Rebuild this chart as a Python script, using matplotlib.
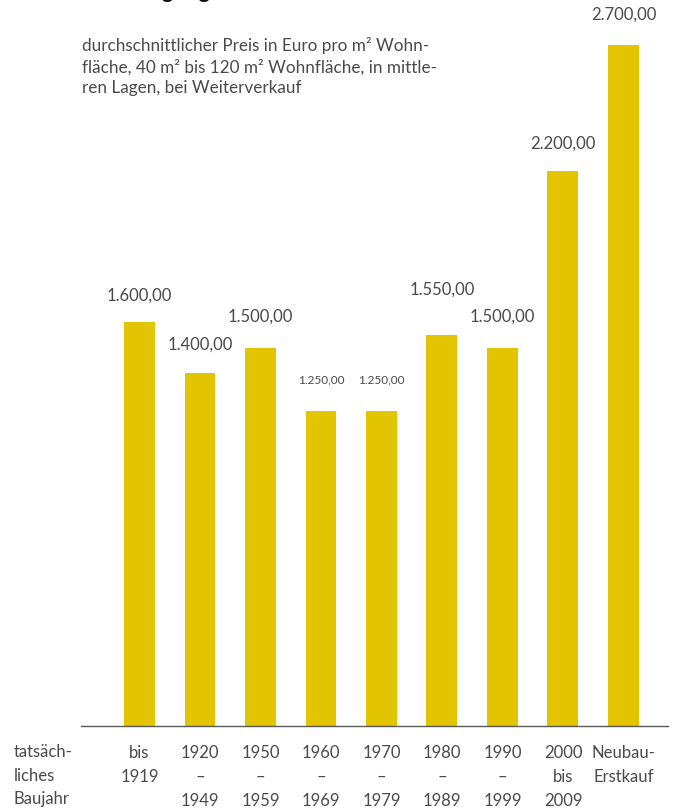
import matplotlib.pyplot as plt

plt.rcParams['font.family'] = ['Lato', 'DejaVu Sans']

# Preise je Baujahresklasse (Euro pro m², Weiterverkauf)
kategorien = ['bis\n1919', '1920\n–\n1949', '1950\n–\n1959', '1960\n–\n1969',
              '1970\n–\n1979', '1980\n–\n1989', '1990\n–\n1999',
              '2000\nbis\n2009', 'Neubau-\nErstkauf']
preise = [1600, 1400, 1500, 1250, 1250, 1550, 1500, 2200, 2700]
beschriftungen = ['1.600,00', '1.400,00', '1.500,00', '1.250,00', '1.250,00',
                  '1.550,00', '1.500,00', '2.200,00', '2.700,00']

# Abstand der Wertbeschriftung über dem Balken (Punkte) und Schriftgröße
abstand = [19, 20, 22, 22, 22, 33, 22, 20, 22]
groesse = [12, 12, 12, 8.5, 8.5, 12, 12, 12, 12]

gelb = '#e3c400'
grau = '#4a4a4a'

W, H = 686, 810
fig = plt.figure(figsize=(W / 100, H / 100), dpi=100)
ax = fig.add_axes([81 / W, 84 / H, 587 / W, 726 / H])

x = list(range(len(preise)))
ax.bar(x, preise, width=0.512, color=gelb)
ax.set_xlim(-0.967, 8.736)
ax.set_ylim(0, 2878)

for xi, p, txt, off, fs in zip(x, preise, beschriftungen, abstand, groesse):
    ax.annotate(txt, (xi, p), xytext=(0, off), textcoords='offset points',
                ha='center', va='center', fontsize=fs, color=grau)

for s in ['top', 'right', 'left']:
    ax.spines[s].set_visible(False)
ax.spines['bottom'].set_color('#5a5a5a')
ax.spines['bottom'].set_linewidth(1.0)
ax.set_yticks([])
ax.set_xticks(x)
ax.set_xticklabels(kategorien, fontsize=12, color=grau, linespacing=1.58,
                   va='top')
ax.tick_params(axis='x', length=0, pad=14)

fig.text(14 / W, 1 - 744 / H, 'tatsäch-\nliches\nBaujahr', ha='left',
         va='top', fontsize=12, color=grau, linespacing=1.58)

# Überschrift (oben angeschnitten) und Untertitel
fig.text(82 / W, 1 + 2 / H, 'Wohnungseigentum', ha='left', va='baseline',
         fontsize=15, fontweight='bold', color='#111111')
fig.text(82 / W, 1 - 37 / H,
         'durchschnittlicher Preis in Euro pro m² Wohn-\n'
         'fläche, 40 m² bis 120 m² Wohnfläche, in mittle-\n'
         'ren Lagen, bei Weiterverkauf',
         ha='left', va='top', fontsize=12.3, color=grau, linespacing=1.37)

fig.savefig('out.png', dpi=100)
